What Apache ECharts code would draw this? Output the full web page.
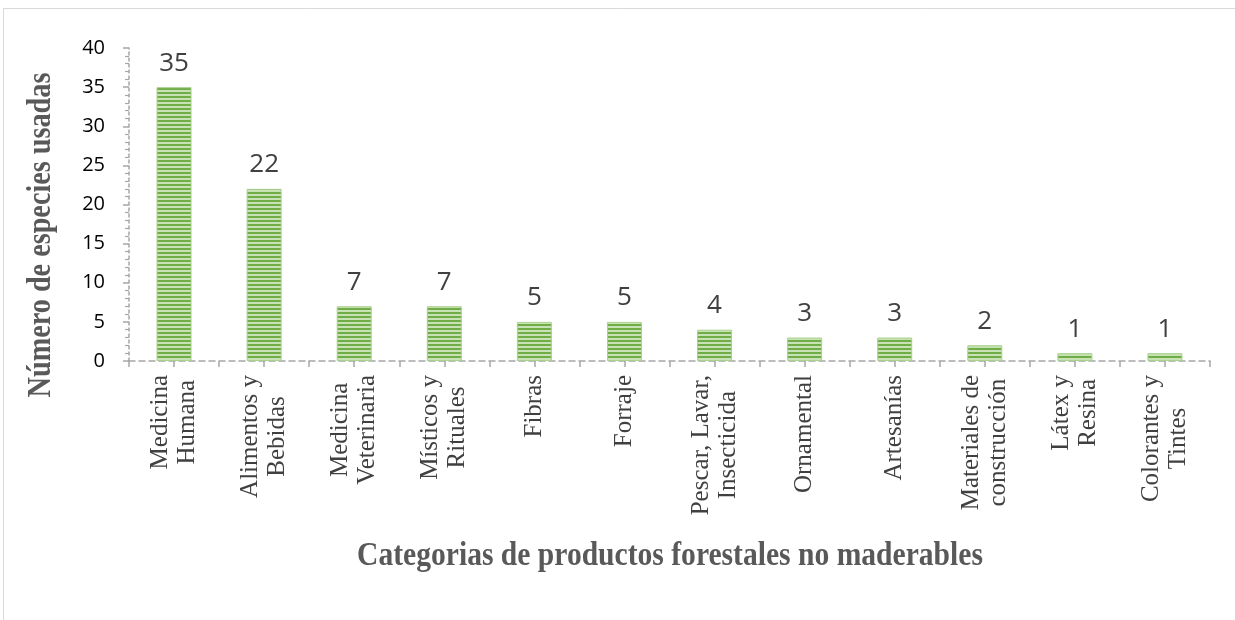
<!DOCTYPE html>
<html>
<head>
<meta charset="utf-8">
<script src="https://cdn.jsdelivr.net/npm/echarts@6/dist/echarts.min.js"></script>
<style>
html,body{margin:0;padding:0;background:#fff;}
#chart{width:1235px;height:620px;}
</style>
</head>
<body>
<div id="chart"></div>
<script>
const categories = ['Medicina\nHumana','Alimentos y\nBebidas','Medicina\nVeterinaria','Místicos y\nRituales','Fibras','Forraje','Pescar, Lavar,\nInsecticida','Ornamental','Artesanías','Materiales de\nconstrucción','Látex y\nResina','Colorantes y\nTintes'];
const values = [35,22,7,7,5,5,4,3,3,2,1,1];
const yTicks = [0,5,10,15,20,25,30,35,40];
const yTitle = 'Número de especies usadas';
const xTitle = 'Categorias de productos forestales no maderables';

// striped pattern
const pc = document.createElement('canvas');
pc.width = 4; pc.height = 4;
const pctx = pc.getContext('2d');
pctx.fillStyle = '#c7e2b5'; pctx.fillRect(0,0,4,4);
pctx.fillStyle = '#70ad47'; pctx.fillRect(0,0,4,2);

const tickPositions = [];
for (let i = 0; i < categories.length * 2; i++) tickPositions.push('');

const chart = echarts.init(document.getElementById('chart'), null, {renderer:'canvas'});
chart.setOption({
  animation:false,
  backgroundColor:'#fff',
  grid:{left:129,right:25,top:48,bottom:259,containLabel:false},
  graphic:[{
    type:'rect', shape:{x:3.5,y:8.5,width:1240,height:620},
    style:{fill:'none',stroke:'#d9d9d9',lineWidth:1}, silent:true
  },{
    type:'text', x:670, y:556, scaleX:0.87,
    style:{text:xTitle, font:'bold 34px "Liberation Serif", serif', fill:'#595959', align:'center', verticalAlign:'middle'}
  },{
    type:'text', rotation:Math.PI/2, x:41, y:235, scaleX:0.83,
    style:{text:yTitle, font:'bold 34px "Liberation Serif", serif', fill:'#595959', align:'center', verticalAlign:'middle'}
  }],
  xAxis:[{
    type:'category', data:categories,
    axisLine:{lineStyle:{color:'#a6a6a6',type:[6,4],width:1.5}},
    axisTick:{show:false},
    axisLabel:{
      rotate:90, interval:0, margin:14, color:'#404040',
      fontFamily:'"Liberation Serif", serif', fontSize:25, lineHeight:27,
      formatter:function(v){return v.split('\n').map(function(s){return '{c|'+s+'}';}).join('\n');},
      rich:{c:{align:'center',fontFamily:'"Liberation Serif", serif',fontSize:25,color:'#404040',lineHeight:27}}
    }
  },{
    type:'category', data:tickPositions, position:'bottom', offset:0,
    axisLine:{show:false},
    axisTick:{show:true,interval:0,length:6,lineStyle:{color:'#a6a6a6',width:1.5}},
    axisLabel:{show:false}
  }],
  yAxis:{
    type:'value', min:yTicks[0], max:yTicks[yTicks.length-1], interval:5,
    axisLine:{show:true,lineStyle:{color:'#a6a6a6',type:[3,3],width:1.5}},
    axisTick:{show:true,length:6,lineStyle:{color:'#a6a6a6',width:1.5}},
    minorTick:{show:true,splitNumber:5,length:4,lineStyle:{color:'#a6a6a6',width:1.2}},
    splitLine:{show:false},
    axisLabel:{color:'#000',fontFamily:'"Open Sans", sans-serif',fontSize:20,margin:24}
  },
  series:[{
    type:'bar', data:values, xAxisIndex:0, barWidth:35,
    itemStyle:{color:{image:pc,repeat:'repeat'},borderColor:'#a9d18e',borderWidth:1},
    label:{show:true,position:'top',distance:11,color:'#404040',fontFamily:'"Open Sans", sans-serif',fontSize:26}
  }]
});
</script>
</body>
</html>
